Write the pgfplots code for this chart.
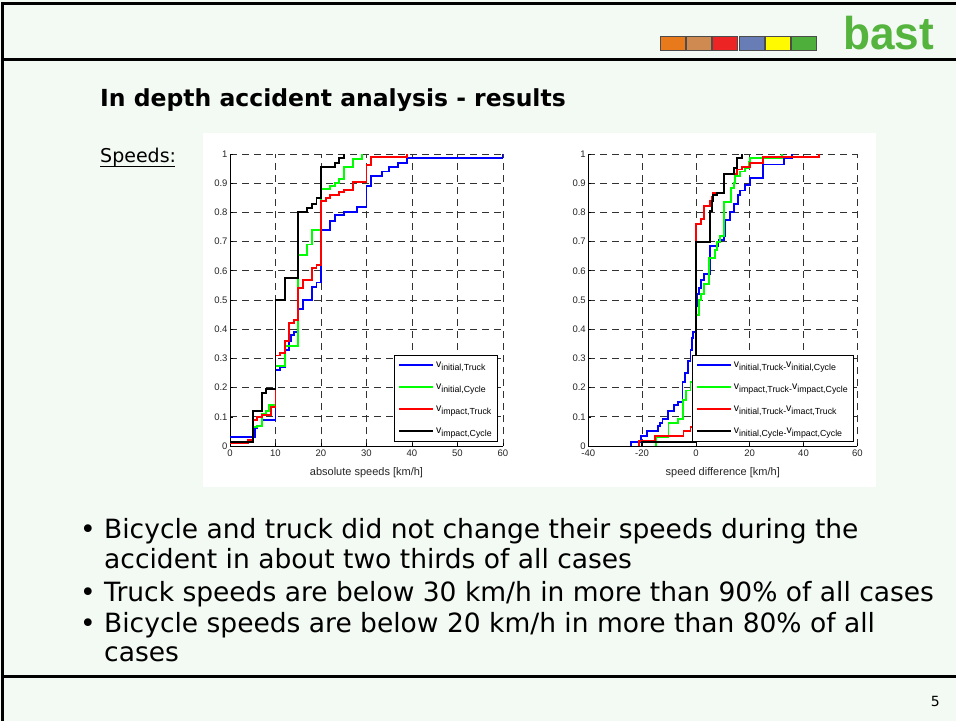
\documentclass[border=0pt]{standalone}
\usepackage{pgfplots}
\pgfplotsset{compat=1.18}
\usepackage{fontspec}
\setmainfont{DejaVu Sans}
\newfontfamily\plotfont{Liberation Sans}
\newfontfamily\logofont{Liberation Sans}
\newcommand\sub[1]{\raisebox{-3.2pt}{\fontsize{8.8}{10}\selectfont #1}}
\definecolor{slidebg}{RGB}{243,249,243}
\definecolor{logogreen}{RGB}{84,180,62}
\definecolor{sqA}{RGB}{232,122,28}
\definecolor{sqB}{RGB}{206,138,80}
\definecolor{sqC}{RGB}{236,36,36}
\definecolor{sqD}{RGB}{104,124,182}
\definecolor{sqE}{RGB}{255,250,0}
\definecolor{sqF}{RGB}{78,176,58}
\definecolor{gridc}{RGB}{50,50,50}
\pgfplotsset{
 cdf/.style={
  scale only axis, axis x line*=bottom, axis y line*=left,
  ymin=0, ymax=1, ytick={0,0.1,0.2,0.3,0.4,0.5,0.6,0.7,0.8,0.9,1},
  yticklabels={0,0.1,0.2,0.3,0.4,0.5,0.6,0.7,0.8,0.9,1},
  grid=major, major grid style={gridc, line width=0.7pt, dash pattern=on 7pt off 5pt},
  tick align=inside, major tick length=3pt, tick style={black, line width=0.6pt},
  tick label style={font=\plotfont\fontsize{9.5}{10}\selectfont, text=black!85},
  /pgf/number format/assume math mode=true,
  xticklabel style={yshift=-0.5pt},
  yticklabel style={xshift=1pt},
  label style={font=\plotfont\fontsize{11}{12}\selectfont, text=black!85},
  xlabel style={yshift=-4pt},
  axis line style={black, line width=0.8pt},
  every axis plot/.append style={const plot, line width=1.9pt, no marks},
  legend style={draw=black, line width=0.8pt, fill=white, inner xsep=4pt, inner ysep=3pt,
    row sep=7.5pt, font=\plotfont\fontsize{10.5}{11}\selectfont, cells={anchor=west},
    nodes={inner xsep=2pt, inner ysep=1.5pt, text height=7.5pt, text depth=4pt},
    anchor=south east},
  legend image code/.code={\draw[#1, line width=1.9pt] (0pt,0pt) -- (34pt,0pt);},
  clip=true
 }
}
\begin{document}
\begin{tikzpicture}[x=1pt,y=1pt]
\fill[slidebg] (0,0) rectangle (956,721);
\useasboundingbox (0,0) rectangle (956,721);
% frame lines
\draw[line width=3pt] (2.5,0) -- (2.5,717);
\draw[line width=3pt] (1,717) -- (956,717);
\draw[line width=3pt] (1,661) -- (956,661);
\draw[line width=3pt] (1,45) -- (956,45);
% colour squares
\foreach \c [count=\i from 0] in {sqA,sqB,sqC,sqD,sqE,sqF}{
  \fill[\c, draw=black!70, line width=0.8pt] (660+\i*26.3,671) rectangle ++(25,14);
}
% logo
\node[anchor=base west, inner sep=0, text=logogreen] at (843,671)
  {\scalebox{0.96}[1]{\logofont\bfseries\fontsize{46}{46}\selectfont bast}};
% title
\node[anchor=base west, inner sep=0] at (100,614)
  {\fontsize{23.5}{26}\selectfont\bfseries In depth accident analysis - results};
\node[anchor=base west, inner sep=0] at (100,558)
  {\fontsize{19}{22}\selectfont Speeds:};
\draw[line width=1pt] (100,554) -- (175,554);
% white plot area
\fill[white] (203,234) rectangle (876,588);
% left axis
\begin{axis}[cdf, at={(230pt,275pt)}, anchor=south west, width=273pt, height=292pt,
  xmin=0, xmax=60, xtick={0,10,20,30,40,50,60},
  xlabel={absolute speeds [km/h]},
  legend style={at={(0.982,0.014)}}]
\addplot[blue] coordinates {(0,0.03) (5.5,0.06) (6,0.07) (7,0.09) (10,0.26) (11,0.27) (12,0.33) (13,0.36) (13.5,0.38) (14,0.39) (15,0.47) (16,0.5) (18,0.545) (19,0.56) (20,0.74) (22,0.77) (23,0.79) (25,0.80) (28,0.82) (30,0.89) (31,0.925) (33.5,0.94) (35,0.955) (37,0.97) (39,0.985) (60,1.0)};
\addlegendentry{v\sub{initial,Truck}}
\addplot[green] coordinates {(0,0.013) (5,0.065) (6,0.07) (7,0.11) (8,0.12) (8.5,0.14) (10,0.275) (12,0.344) (15,0.655) (17,0.69) (18,0.74) (20,0.88) (22,0.89) (23,0.90) (24,0.915) (25,0.957) (27,0.982) (29,1.0)};
\addlegendentry{v\sub{initial,Cycle}}
\addplot[red] coordinates {(0,0.01) (4,0.02) (5,0.09) (6,0.10) (7,0.105) (9,0.135) (10,0.31) (11,0.32) (12,0.36) (13,0.42) (14,0.43) (15,0.54) (16,0.57) (18,0.61) (19,0.62) (20,0.84) (21,0.85) (22,0.86) (24,0.87) (25,0.877) (27,0.905) (30,0.962) (31,0.99) (39,1.0)};
\addlegendentry{v\sub{impact,Truck}}
\addplot[black] coordinates {(0,0.013) (5,0.12) (7,0.18) (8,0.195) (10,0.5) (12,0.575) (15,0.80) (17,0.815) (18,0.83) (19,0.85) (20,0.955) (23,0.97) (24,0.985) (25,1.0)};
\addlegendentry{v\sub{impact,Cycle}}
\end{axis}
% right axis
\begin{axis}[cdf, at={(588.3pt,275pt)}, anchor=south west, width=269pt, height=292pt,
  xmin=-40, xmax=60, xtick={-40,-20,0,20,40,60},
  xlabel={speed difference [km/h]},
  legend style={at={(0.988,0.014)}}]
\addplot[blue] coordinates {(-24,0) (-24,0.015) (-20.3,0.035) (-18.2,0.05) (-14.1,0.068) (-13.5,0.079) (-12.4,0.093) (-10.5,0.12) (-8,0.14) (-6.5,0.15) (-5,0.22) (-4,0.25) (-3,0.29) (-2,0.33) (-1.5,0.37) (-1,0.39) (0,0.48) (0.5,0.52) (1,0.54) (2,0.57) (3,0.59) (5.3,0.685) (8.4,0.705) (10.3,0.72) (10.9,0.775) (12.7,0.80) (14,0.83) (15.5,0.86) (16.5,0.875) (18.3,0.895) (20.2,0.918) (25.1,0.964) (32.6,0.985) (35.7,1.0)};
\addlegendentry{v\sub{initial,Truck}\sub{-}v\sub{initial,Cycle}}
\addplot[green] coordinates {(-14.8,0) (-14.8,0.03) (-10.2,0.08) (-6.8,0.094) (-4.8,0.157) (-3.7,0.19) (-2,0.22) (-1,0.30) (0,0.45) (1,0.50) (2,0.52) (3,0.555) (5,0.645) (7,0.67) (8,0.70) (9,0.72) (10.3,0.836) (13,0.884) (14,0.90) (14.5,0.924) (16.5,0.94) (18.3,0.953) (19.6,0.973) (20.2,0.985) (32,1.0)};
\addlegendentry{v\sub{impact,Truck}\sub{-}v\sub{impact,Cycle}}
\addplot[red] coordinates {(-21.3,0) (-21.3,0.016) (-15.1,0.034) (-4.6,0.05) (-2,0.065) (0,0.761) (2,0.776) (3.1,0.821) (5.3,0.838) (6,0.852) (6.5,0.867) (10.3,0.932) (15.2,0.947) (17.1,0.956) (20.2,0.97) (25.1,0.989) (45.6,1.0)};
\addlegendentry{v\sub{initial,Truck}\sub{-}v\sub{imact,Truck}}
\addplot[black] coordinates {(-20,0) (-20,0.015) (0,0.70) (5.3,0.804) (6,0.838) (6.5,0.861) (8,0.865) (10.3,0.93) (14,0.953) (15.2,0.987) (17.3,1.0)};
\addlegendentry{v\sub{initial,Cycle}\sub{-}v\sub{impact,Cycle}}
\end{axis}
% bullets
\begin{scope}[every node/.style={anchor=base west, inner sep=0, font=\fontsize{26.5}{30}\selectfont}]
\node at (80,183) {•};
\node at (104,183) {Bicycle and truck did not change their speeds during the};
\node at (104,153) {accident in about two thirds of all cases};
\node at (80,120) {•};
\node at (104,120) {Truck speeds are below 30 km/h in more than 90\% of all cases};
\node at (80,89) {•};
\node at (104,89) {Bicycle speeds are below 20 km/h in more than 80\% of all};
\node at (104,60) {cases};
\end{scope}
\node[anchor=base east, inner sep=0, font=\fontsize{14}{16}\selectfont] at (940,15) {5};
\end{tikzpicture}
\end{document}
